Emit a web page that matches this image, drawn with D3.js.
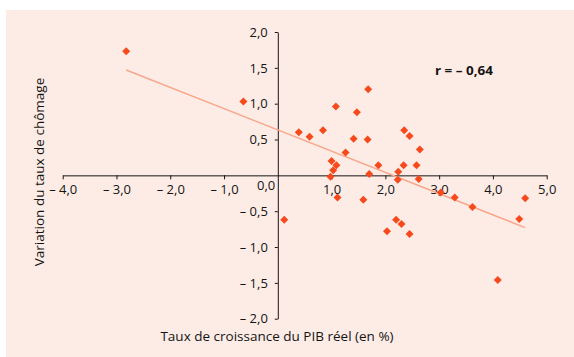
<!DOCTYPE html>
<html>
<head>
<meta charset="utf-8">
<script src="https://cdn.jsdelivr.net/npm/d3@7"></script>
<style>
  body { margin: 0; background: #fff; }
  svg { display: block; font-family: "Open Sans", "Noto Sans", sans-serif; }
</style>
</head>
<body>
<svg id="chart"></svg>
<script>
// croissance du PIB réel (%) et variation du taux de chômage
const growth = [-2.82, -0.64, 0.12, 0.39, 0.59, 0.84, 0.98, 1.00, 1.03, 1.08, 1.09,
    1.11, 1.26, 1.41, 1.47, 1.59, 1.67, 1.68, 1.70, 1.87, 2.03, 2.20, 2.23, 2.24,
    2.30, 2.34, 2.35, 2.45, 2.45, 2.58, 2.62, 2.64, 3.03, 3.29, 3.62, 4.09, 4.49, 4.60];
const unempChange = [1.73, 1.03, -0.62, 0.60, 0.54, 0.63, -0.02, 0.20, 0.07, 0.96, 0.14,
    -0.31, 0.32, 0.51, 0.88, -0.34, 0.50, 1.20, 0.02, 0.14, -0.78, -0.62, -0.06, 0.05,
    -0.68, 0.14, 0.63, 0.55, -0.82, 0.14, -0.05, 0.36, -0.24, -0.31, -0.44, -1.46, -0.61, -0.32];

// droite de tendance (extrémités)
const trendX = [-2.82, 4.60];
const trendY = [1.47, -0.73];

const xTicks = [-4, -3, -2, -1, 1, 2, 3, 4, 5];
const yTicks = [-2, -1.5, -1, -0.5, 0.5, 1, 1.5, 2];

const width = 574,
    height = 357

const svg = d3.select("#chart")
    .attr("width", width)
    .attr("height", height)

svg.append("rect")
    .attr("x", 6)
    .attr("y", 10)
    .attr("width", width - 6)
    .attr("height", height - 10)
    .attr("fill", "#fdece6")

const x = d3.scaleLinear().domain([-4, 5]).range([62.7, 546.7]),
    y = d3.scaleLinear().domain([-2, 2]).range([318.7, 32]);

const fmt = function (d) {
    let s = d3.format(".1f")(Math.abs(d)).replace(".", ",")
    return d < 0 ? "\u2013 " + s : s
}

const ink = "#141414"

// axes
svg.append("g")
    .attr("transform", "translate(0," + y(0) + ")")
    .call(d3.axisBottom(x).tickValues(xTicks).tickFormat(fmt).tickSize(4).tickSizeOuter(0).tickPadding(5))

svg.append("g")
    .attr("transform", "translate(" + x(0) + ",0)")
    .call(d3.axisLeft(y).tickValues(yTicks).tickFormat(fmt).tickSize(3).tickSizeOuter(0).tickPadding(7))

svg.selectAll(".domain").attr("stroke", ink).attr("stroke-width", 1)
svg.selectAll(".tick line").attr("stroke", ink)
svg.selectAll(".tick text")
    .attr("fill", ink)
    .style("font-size", "13px")
    .style("font-family", "'Open Sans', 'Noto Sans', sans-serif")

svg.append("text")
    .attr("x", x(0) - 2.5)
    .attr("y", y(0) + 14.5)
    .attr("text-anchor", "end")
    .attr("fill", ink)
    .style("font-size", "13px")
    .text(fmt(0))

// droite de tendance
svg.append("line")
    .attr("x1", x(trendX[0]))
    .attr("y1", y(trendY[0]))
    .attr("x2", x(trendX[1]))
    .attr("y2", y(trendY[1]))
    .attr("stroke", "#f9a78b")
    .attr("stroke-width", 1.5)

// points
const dots = growth.map(function (g, i) { return { g: g, u: unempChange[i] } })

svg.append("g")
    .selectAll("path")
    .data(dots)
    .enter()
    .append("path")
    .attr("d", d3.symbol().type(d3.symbolSquare).size(32))
    .attr("transform", function (d) { return "translate(" + x(d.g) + "," + y(d.u) + ") rotate(45)" })
    .attr("fill", "#f74a1c")

svg.append("text")
    .attr("x", 435)
    .attr("y", 74.5)
    .attr("textLength", 58)
    .attr("lengthAdjust", "spacingAndGlyphs")
    .attr("fill", ink)
    .style("font-size", "13px")
    .style("font-weight", "bold")
    .text("r = \u2013 0,64")

// titres des axes
svg.append("text")
    .attr("x", 277)
    .attr("y", 341)
    .attr("text-anchor", "middle")
    .attr("fill", ink)
    .style("font-size", "13.5px")
    .text("Taux de croissance du PIB réel (en %)")

svg.append("text")
    .attr("transform", "translate(43.5,172) rotate(-90)")
    .attr("text-anchor", "middle")
    .attr("fill", ink)
    .style("font-size", "13.5px")
    .text("Variation du taux de chômage")
</script>
</body>
</html>
